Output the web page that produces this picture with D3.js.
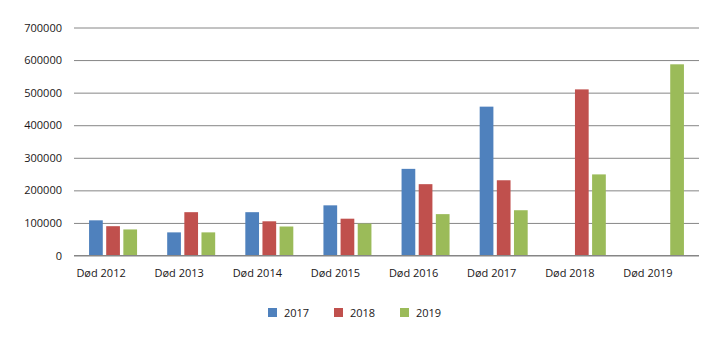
<!DOCTYPE html>
<html>
<head>
<meta charset="utf-8">
<script src="https://cdn.jsdelivr.net/npm/d3@7"></script>
<style>
  body { margin: 0; background: #fff; }
  svg text { font-family: "Open Sans", sans-serif; font-size: 11px; fill: #1a1718; }
</style>
</head>
<body>
<script>
"use strict";

// Deaths per year, grouped by the year the count was taken
const categories = ["Død 2012", "Død 2013", "Død 2014", "Død 2015",
                    "Død 2016", "Død 2017", "Død 2018", "Død 2019"];
const seriesNames = ["2017", "2018", "2019"];
const values2017 = [108000, 71000, 133000, 154000, 266000, 457000, null, null];
const values2018 = [90000, 133000, 105000, 113000, 219000, 231000, 510000, null];
const values2019 = [80000, 71000, 89000, 98000, 127000, 139000, 249000, 587000];
const yTicks = [0, 100000, 200000, 300000, 400000, 500000, 600000, 700000];
const colors = ["#4f81bd", "#c0504d", "#9bbb59"];

const allValues = [values2017, values2018, values2019];

const width = 719;
const height = 341;
const margin = {left: 74, right: 20, top: 27, bottom: 86};

const svg = d3.select("body").append("svg")
    .attr("width", width)
    .attr("height", height);

let x = d3.scaleBand()
    .domain(categories)
    .range([margin.left, width - margin.right]);

let xInner = d3.scaleBand()
    .domain(seriesNames)
    .range([x.bandwidth() / 2 - 24, x.bandwidth() / 2 + 24])
    .paddingInner(0.2);

let y = d3.scaleLinear()
    .domain([0, 700000])
    .range([height - margin.bottom + 0.5, margin.top + 0.5]);

// gridlines and tick labels
let yAxis = svg.append("g")
    .attr("transform", `translate(${margin.left},0)`)
    .call(d3.axisLeft(y).tickValues(yTicks).tickSize(-(width - margin.left - margin.right)).tickPadding(12).tickFormat(d3.format("d")));
yAxis.select(".domain").remove();
yAxis.selectAll(".tick line").attr("stroke", "#868686").attr("stroke-width", 1);

// bars
for (let s = 0; s < seriesNames.length; s++) {
  let data = categories.map((c, i) => ({cat: c, v: allValues[s][i]})).filter(d => d.v != null);
  svg.append("g")
    .selectAll("rect")
    .data(data)
    .enter().append("rect")
    .attr("x", d => x(d.cat) + xInner(seriesNames[s]))
    .attr("width", xInner.bandwidth())
    .attr("y", d => y(d.v))
    .attr("height", d => y(0) - y(d.v))
    .attr("fill", colors[s]);
}

// redraw baseline over bars
svg.append("line")
    .attr("x1", margin.left).attr("x2", width - margin.right)
    .attr("y1", y(0)).attr("y2", y(0))
    .attr("stroke", "#868686");

// category labels, set a little left of the bar groups
svg.append("g")
    .selectAll("text")
    .data(categories)
    .enter().append("text")
    .attr("x", d => x(d) + x.bandwidth() / 2 - 12)
    .attr("y", 276.5)
    .attr("text-anchor", "middle")
    .text(d => d);

// legend
let legend = svg.append("g")
    .selectAll("g")
    .data(seriesNames)
    .enter().append("g")
    .attr("transform", (d, i) => `translate(${268 + i * 66},308)`);
legend.append("rect")
    .attr("width", 9)
    .attr("height", 9)
    .attr("fill", (d, i) => colors[i]);
legend.append("text")
    .attr("x", 16)
    .attr("y", 8.5)
    .text(d => d);
</script>
</body>
</html>
